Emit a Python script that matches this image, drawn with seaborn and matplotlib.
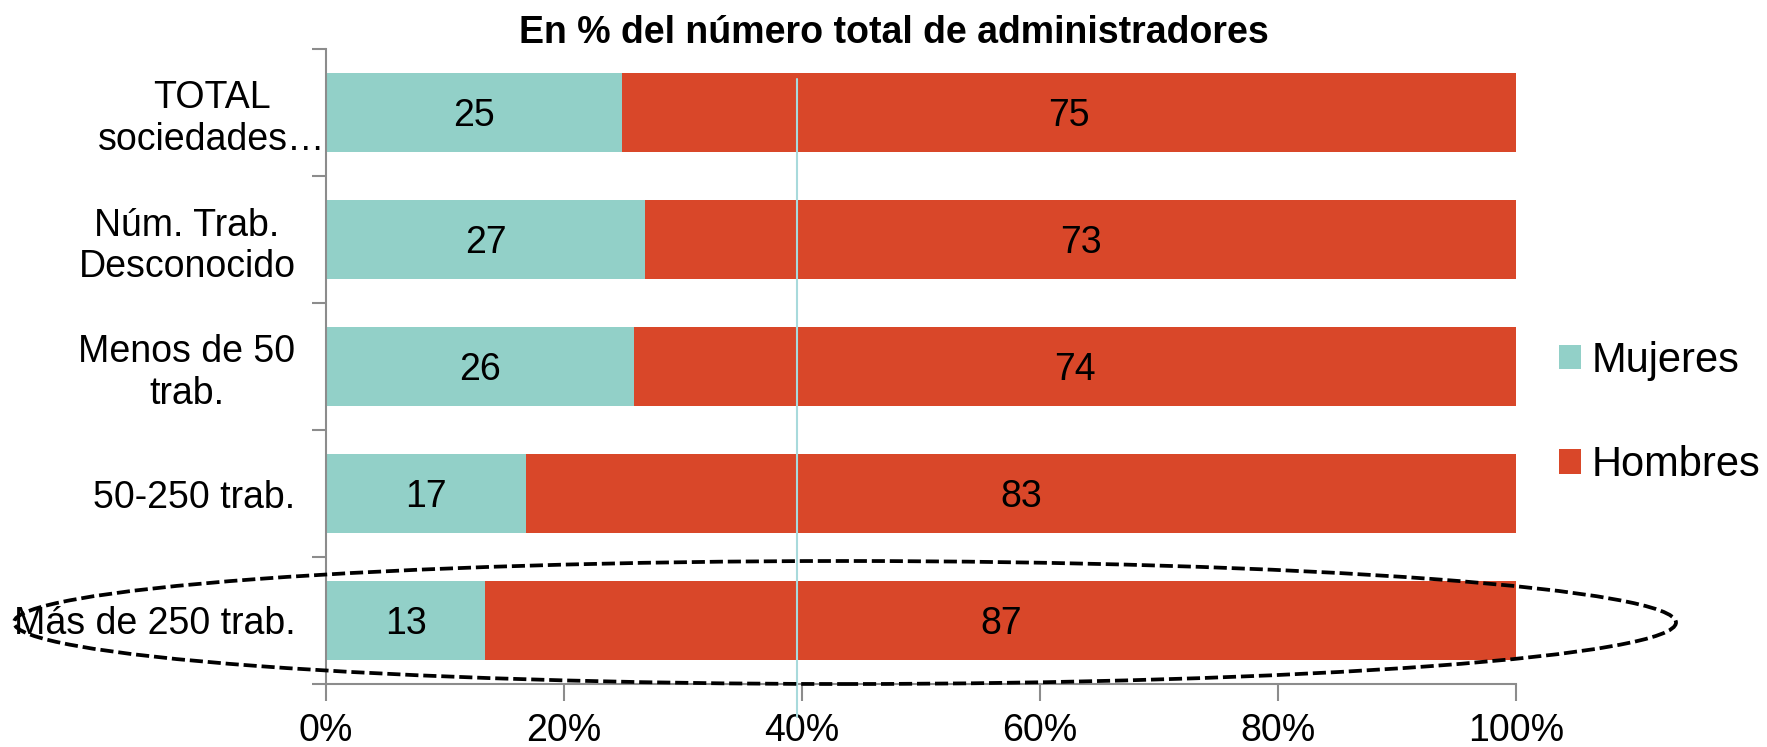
import matplotlib
matplotlib.use("Agg")
import matplotlib.pyplot as plt
import seaborn as sns
import pandas as pd
from matplotlib.patches import Patch, Ellipse
from matplotlib.transforms import ScaledTranslation

# ---- data ----
categories = ["TOTAL\nsociedades…", "Núm. Trab.\nDesconocido", "Menos de 50\ntrab.",
              "50-250 trab.", "Más de 250 trab."]
mujeres = [24.9, 26.8, 25.9, 16.8, 13.4]
hombres = [75.1, 73.2, 74.1, 83.2, 86.6]
series_names = ["Mujeres", "Hombres"]
x_ticks = [0, 20, 40, 60, 80, 100]
x_tick_labels = ["0%", "20%", "40%", "60%", "80%", "100%"]
title = "En % del número total de administradores"
ref_line_value = 39.6

TEAL = "#92D0C8"
RED = "#D94729"
GRAY = "#8C8C8C"

sns.set_theme(style="white")
plt.rcParams['font.family'] = ['Liberation Sans', 'DejaVu Sans']
plt.rcParams['text.color'] = 'black'
plt.rcParams['xtick.color'] = 'black'
plt.rcParams['ytick.color'] = 'black'

W, H = 1767, 747
fig = plt.figure(figsize=(W / 100, H / 100), dpi=100)
ax = fig.add_axes([326 / W, 1 - 684 / H, (1516 - 326) / W, (684 - 49) / H])

df = pd.DataFrame({"cat": categories, "m": mujeres, "h": hombres})
df["total"] = df["m"] + df["h"]

sns.barplot(data=df, y="cat", x="total", color=RED, width=0.62, saturation=1,
            errorbar=None, linewidth=0, ax=ax, orient="h")
sns.barplot(data=df, y="cat", x="m", color=TEAL, width=0.62, saturation=1,
            errorbar=None, linewidth=0, ax=ax, orient="h")

for i, (m, h) in enumerate(zip(mujeres, hombres)):
    ax.text(m / 2, i + 0.03, f"{m:.0f}", ha="center", va="center", fontsize=27, color="black")
    ax.text(m + h / 2, i + 0.03, f"{h:.0f}", ha="center", va="center", fontsize=27, color="black")

ax.axvline(ref_line_value, ymin=-0.052, ymax=0.953, color="#A8DADC", lw=1.5,
           clip_on=False, zorder=5)

ax.set_xlim(0, 100)
ax.set_ylim(4.5, -0.5)
ax.set_xticks(x_ticks, x_tick_labels)
ax.set_yticks(range(len(categories)), categories)
ax.set_yticks([i - 0.5 for i in range(len(categories) + 1)], minor=True)
ax.set_xlabel("")
ax.set_ylabel("")

ax.tick_params(axis="x", which="major", length=12, width=1.5, color=GRAY,
               labelsize=27, pad=9, bottom=True, direction="out", labelcolor="black")
ax.tick_params(axis="y", which="major", length=0, pad=22, labelsize=27, labelcolor="black")
ax.tick_params(axis="y", which="minor", length=10, width=1.5, color=GRAY, left=True,
               direction="out")

for s in ["top", "right"]:
    ax.spines[s].set_visible(False)
for s in ["left", "bottom"]:
    ax.spines[s].set_color(GRAY)
    ax.spines[s].set_linewidth(1.5)

for lbl in ax.get_yticklabels():
    lbl.set_multialignment("center")
lbl0 = ax.get_yticklabels()[0]
lbl0.set_transform(lbl0.get_transform() + ScaledTranslation(0.30, 0, fig.dpi_scale_trans))

fig.text(894 / W, 1 - 33 / H, title, ha="center", va="center", fontsize=27,
         fontweight="bold", color="black")

handles = [Patch(facecolor=TEAL, edgecolor="none"), Patch(facecolor=RED, edgecolor="none")]
fig.legend(handles, series_names, loc="center left", bbox_to_anchor=(1559 / W, 1 - 413 / H),
           frameon=False, fontsize=30, handlelength=0.53, handleheight=0.53,
           handletextpad=0.26, labelspacing=1.55, borderpad=0, borderaxespad=0,
           labelcolor="black")

ell = Ellipse((845 / W, 1 - 622.5 / H), 1662 / W, 123 / H, transform=fig.transFigure,
              fill=False, edgecolor="black", linewidth=2.7, linestyle=(0, (3.5, 1.3)),
              zorder=10)
fig.add_artist(ell)

fig.savefig("out.png", dpi=100)
